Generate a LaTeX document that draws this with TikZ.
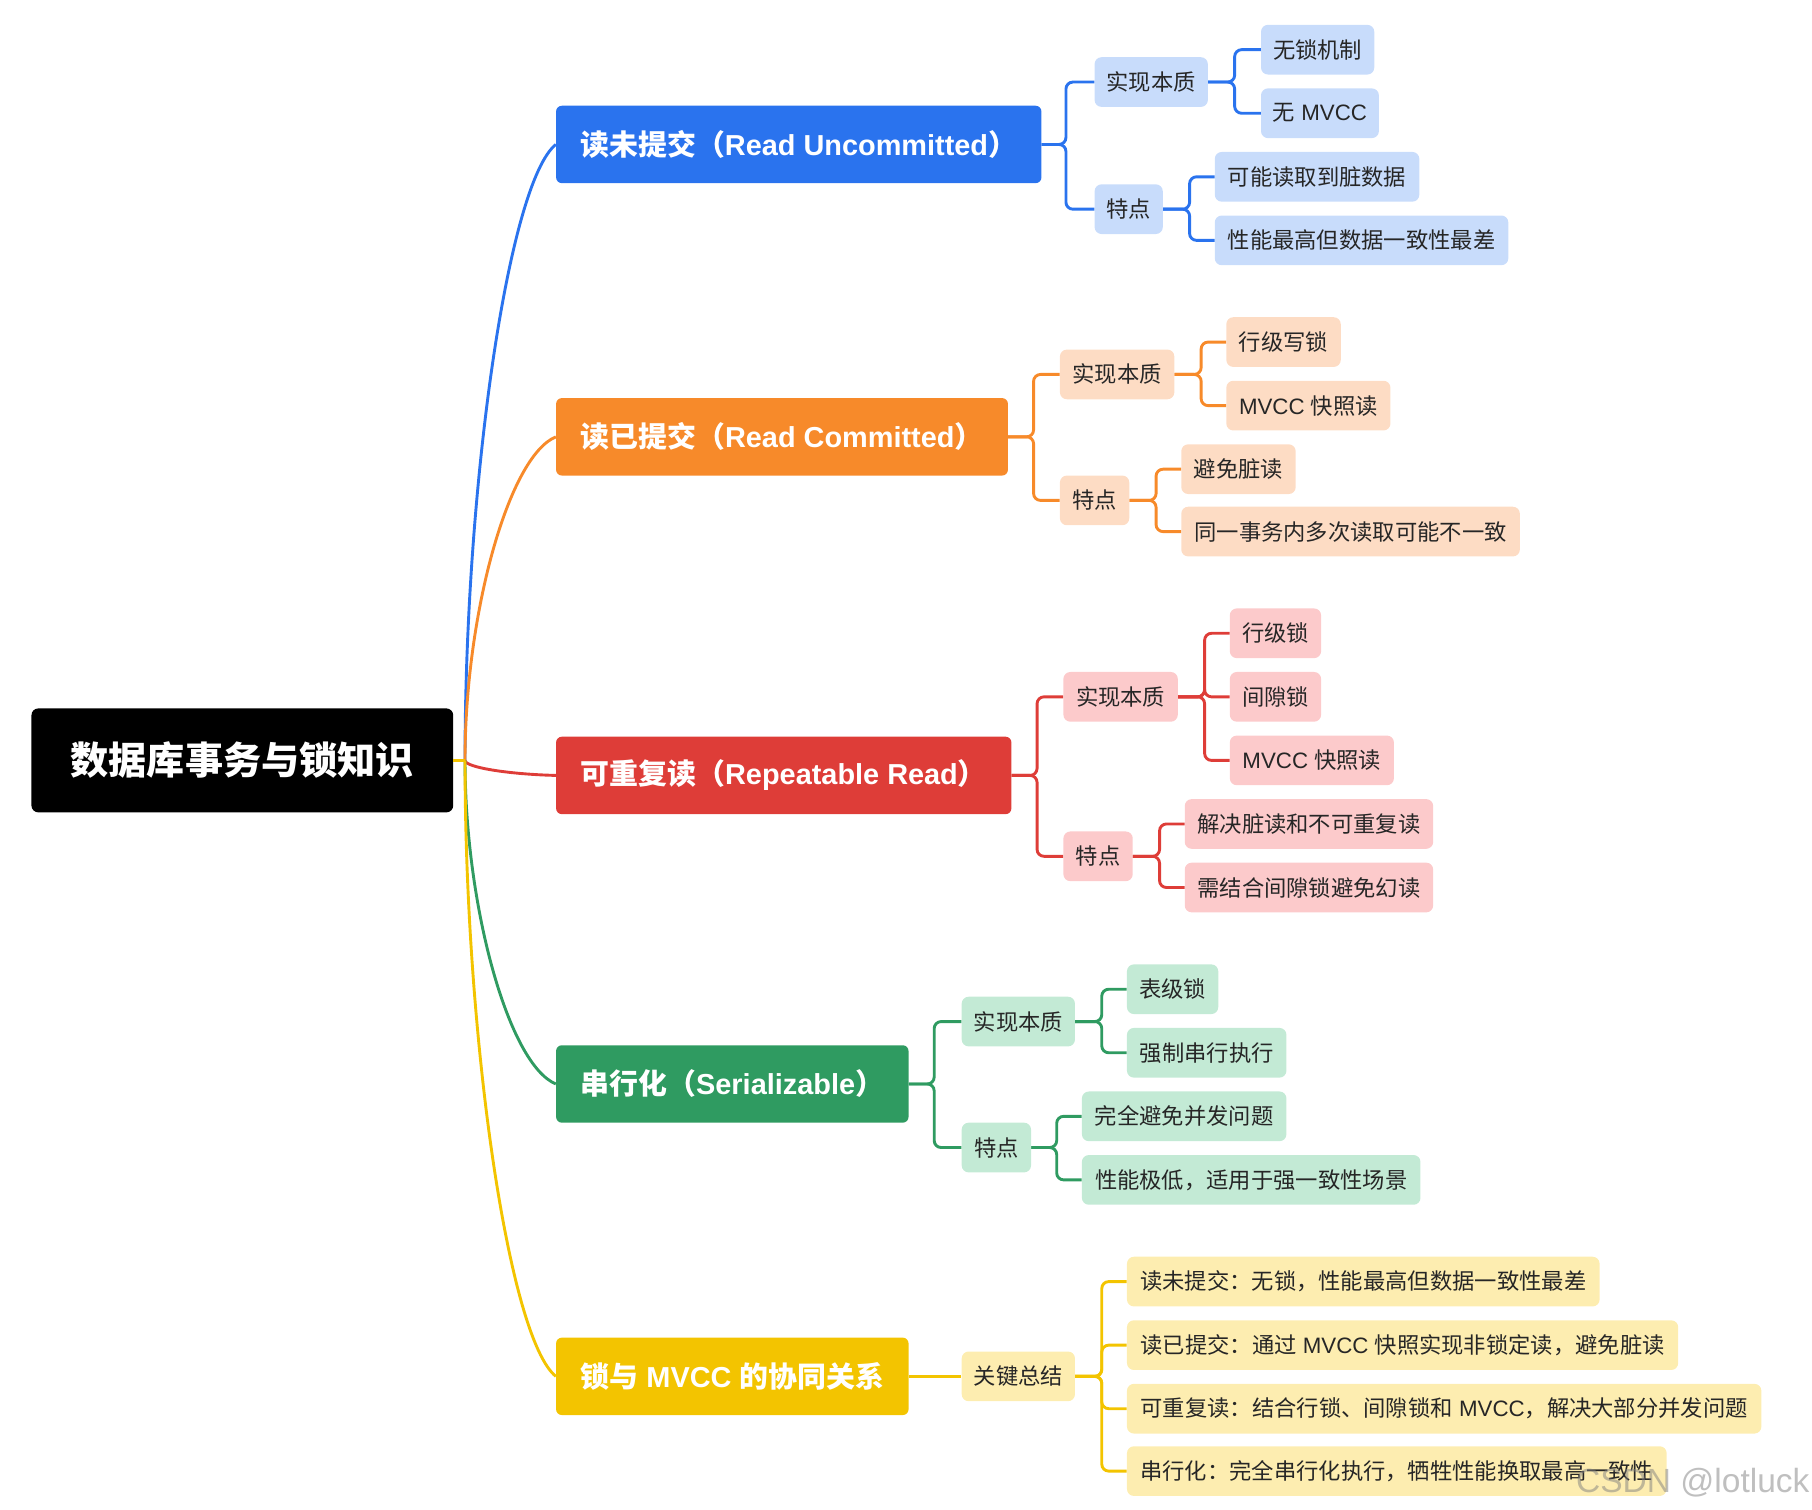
\documentclass[tikz,border=0pt]{standalone}
\usepackage{fontspec}
\setmainfont{Noto Sans CJK SC}
\newfontfamily\wmfont{Liberation Sans}
\newfontfamily\latf{Liberation Sans}
\newcommand{\lt}[1]{{\latf #1}}
\definecolor{cblue}{HTML}{2A73EE}
\definecolor{corange}{HTML}{F78A2A}
\definecolor{cred}{HTML}{DE3D38}
\definecolor{cgreen}{HTML}{2F9B61}
\definecolor{cyellow}{HTML}{F3C400}
\definecolor{lblue}{HTML}{C8DCFB}
\definecolor{lorange}{HTML}{FDDCC4}
\definecolor{lred}{HTML}{FCCACB}
\definecolor{lgreen}{HTML}{C3EAD5}
\definecolor{lyellow}{HTML}{FDEDB0}
\definecolor{txt}{HTML}{262626}
\begin{document}
\begin{tikzpicture}[x=1pt,y=-1pt,
  sub/.style={rectangle, rounded corners=6pt, minimum height=43pt, inner sep=0pt, anchor=west, font=\fontsize{19.3}{22}\selectfont, text=txt},
  mainbox/.style={rectangle, rounded corners=5pt, minimum height=67pt, inner sep=0pt, anchor=west, font=\bfseries\fontsize{25}{29}\selectfont, text=white},
  rootbox/.style={rectangle, rounded corners=6pt, minimum height=90pt, minimum width=365pt, inner sep=0pt, anchor=west, fill=black, font=\bfseries\fontsize{33}{38}\selectfont, text=white},
  link/.style={line width=2.5pt, rounded corners=6pt},
  curve/.style={line width=2.5pt},
  wmark/.style={font=\wmfont\fontsize{29}{32}\selectfont, text=gray, opacity=0.5, anchor=south east, inner sep=0pt}
]
\useasboundingbox (0,0) rectangle (1568,1306);

% root
\node[rootbox] (root) at (27,658) {数据库事务与锁知识};
\path (root.east) ++(10,0) coordinate (hub);

% level 1
\node[mainbox, fill=cblue, minimum width=420pt] (b) at (481,125) {读未提交（\lt{Read Uncommitted}）};
\node[mainbox, fill=corange, minimum width=391pt] (o) at (481,378) {读已提交（\lt{Read Committed}）};
\node[mainbox, fill=cred, minimum width=394pt] (r) at (481,671) {可重复读（\lt{Repeatable Read}）};
\node[mainbox, fill=cgreen, minimum width=305pt] (g) at (481,938) {串行化（\lt{Serializable}）};
\node[mainbox, fill=cyellow, minimum width=305pt] (y) at (481,1191) {锁与\lt{ MVCC }的协同关系};

% blue branch
\node[sub, fill=lblue, minimum width=98pt] (b1) at (947,71) {实现本质};
\node[sub, fill=lblue, minimum width=59pt] (b2) at (947,181) {特点};
\node[sub, fill=lblue, minimum width=98pt] (b11) at (1091,43) {无锁机制};
\node[sub, fill=lblue, minimum width=102pt] (b12) at (1091,98) {无\lt{ MVCC}};
\node[sub, fill=lblue, minimum width=177pt] (b21) at (1051,153) {可能读取到脏数据};
\node[sub, fill=lblue, minimum width=254pt] (b22) at (1051,208) {性能最高但数据一致性最差};

% orange branch
\node[sub, fill=lorange, minimum width=99pt] (o1) at (917,324) {实现本质};
\node[sub, fill=lorange, minimum width=60pt] (o2) at (917,433) {特点};
\node[sub, fill=lorange, minimum width=99pt] (o11) at (1061,296) {行级写锁};
\node[sub, fill=lorange, minimum width=142pt] (o12) at (1061,351) {\lt{MVCC }快照读};
\node[sub, fill=lorange, minimum width=99pt] (o21) at (1022,406) {避免脏读};
\node[sub, fill=lorange, minimum width=293pt] (o22) at (1022,460) {同一事务内多次读取可能不一致};

% red branch
\node[sub, fill=lred, minimum width=99pt] (r1) at (920,603) {实现本质};
\node[sub, fill=lred, minimum width=60pt] (r2) at (920,741) {特点};
\node[sub, fill=lred, minimum width=79pt] (r11) at (1064,548) {行级锁};
\node[sub, fill=lred, minimum width=79pt] (r12) at (1064,603) {间隙锁};
\node[sub, fill=lred, minimum width=142pt] (r13) at (1064,658) {\lt{MVCC }快照读};
\node[sub, fill=lred, minimum width=215pt] (r21) at (1025,713) {解决脏读和不可重复读};
\node[sub, fill=lred, minimum width=215pt] (r22) at (1025,768) {需结合间隙锁避免幻读};

% green branch
\node[sub, fill=lgreen, minimum width=98pt] (g1) at (832,884) {实现本质};
\node[sub, fill=lgreen, minimum width=60pt] (g2) at (832,993) {特点};
\node[sub, fill=lgreen, minimum width=79pt] (g11) at (975,856) {表级锁};
\node[sub, fill=lgreen, minimum width=138pt] (g12) at (975,911) {强制串行执行};
\node[sub, fill=lgreen, minimum width=177pt] (g21) at (936,966) {完全避免并发问题};
\node[sub, fill=lgreen, minimum width=293pt] (g22) at (936,1021) {性能极低，适用于强一致性场景};

% yellow branch
\node[sub, fill=lyellow, minimum width=98pt] (y1) at (832,1191) {关键总结};
\node[sub, fill=lyellow, minimum width=409pt] (y11) at (975,1109) {读未提交：无锁，性能最高但数据一致性最差};
\node[sub, fill=lyellow, minimum width=477pt] (y12) at (975,1164) {读已提交：通过\lt{ MVCC }快照实现非锁定读，避免脏读};
\node[sub, fill=lyellow, minimum width=549pt] (y13) at (975,1219) {可重复读：结合行锁、间隙锁和\lt{ MVCC}，解决大部分并发问题};
\node[sub, fill=lyellow, minimum width=467pt] (y14) at (975,1273) {串行化：完全串行化执行，牺牲性能换取最高一致性};

% root curves
\draw[curve, cblue] (hub) .. controls +(0,-240) and +(-41,33) .. (b.west);
\draw[curve, corange] (hub) .. controls +(0,-126) and +(-41,17) .. (o.west);
\draw[curve, cred] (hub) .. controls +(0,6) and +(-41,-1) .. (r.west);
\draw[curve, cgreen] (hub) .. controls +(0,126) and +(-41,-17) .. (g.west);
\draw[curve, cyellow] (hub) .. controls +(0,240) and +(-41,-33) .. (y.west);
\draw[curve, cyellow] (root.east) -- (hub);

% blue links
\foreach \c in {b1,b2} \draw[link, cblue] (b.east) -- ++(21,0) |- (\c.west);
\foreach \c in {b11,b12} \draw[link, cblue] (b1.east) -- ++(23,0) |- (\c.west);
\foreach \c in {b21,b22} \draw[link, cblue] (b2.east) -- ++(23,0) |- (\c.west);
% orange links
\foreach \c in {o1,o2} \draw[link, corange] (o.east) -- ++(22,0) |- (\c.west);
\foreach \c in {o11,o12} \draw[link, corange] (o1.east) -- ++(23,0) |- (\c.west);
\foreach \c in {o21,o22} \draw[link, corange] (o2.east) -- ++(23,0) |- (\c.west);
% red links
\foreach \c in {r1,r2} \draw[link, cred] (r.east) -- ++(22,0) |- (\c.west);
\foreach \c in {r11,r12,r13} \draw[link, cred] (r1.east) -- ++(23,0) |- (\c.west);
\foreach \c in {r21,r22} \draw[link, cred] (r2.east) -- ++(23,0) |- (\c.west);
% green links
\foreach \c in {g1,g2} \draw[link, cgreen] (g.east) -- ++(22,0) |- (\c.west);
\foreach \c in {g11,g12} \draw[link, cgreen] (g1.east) -- ++(23,0) |- (\c.west);
\foreach \c in {g21,g22} \draw[link, cgreen] (g2.east) -- ++(22,0) |- (\c.west);
% yellow links
\draw[link, cyellow] (y.east) -- (y1.west);
\foreach \c in {y11,y12,y13,y14} \draw[link, cyellow] (y1.east) -- ++(23,0) |- (\c.west);

% watermark
\node[wmark] (wm) at (1566,1296) {CSDN @lotluck};
\end{tikzpicture}
\end{document}
